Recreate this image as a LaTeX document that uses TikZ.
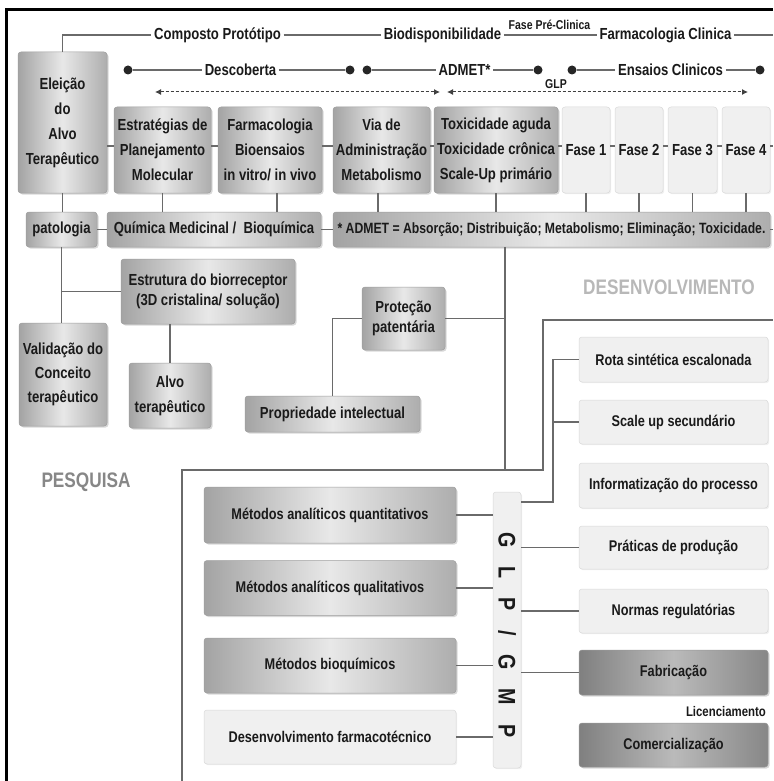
\documentclass[tikz,border=0pt]{standalone}
\usepackage{fontspec}
\setmainfont[FakeStretch=0.82]{Liberation Sans}
\usetikzlibrary{shadows,arrows.meta,calc}
\definecolor{txt}{HTML}{1a1a1a}
\definecolor{ln}{HTML}{6a6a6a}
\tikzset{
  conn/.style={draw=ln, line width=1.1pt},
  boxD/.style={rounded corners=3pt, draw=black!38, line width=0.5pt,
    left color=black!36, right color=black!32, middle color=black!9,
    drop shadow={opacity=0.3, shadow xshift=1.5pt, shadow yshift=-1.5pt},
    align=center, inner sep=0pt, text=txt, font=\bfseries\fontsize{16}{25}\selectfont},
  boxL/.style={rounded corners=3pt, draw=black!15, line width=0.5pt, fill=black!6,
    drop shadow={opacity=0.12, shadow xshift=1.2pt, shadow yshift=-1.2pt},
    align=center, inner sep=0pt, text=txt, font=\bfseries\fontsize{16}{25}\selectfont},
  boxF/.style={rounded corners=3pt, draw=black!40, line width=0.5pt,
    left color=black!50, right color=black!47, middle color=black!27,
    drop shadow={opacity=0.3, shadow xshift=1.5pt, shadow yshift=-1.5pt},
    align=center, inner sep=0pt, text=txt, font=\bfseries\fontsize{15.5}{18}\selectfont},
  lab/.style={inner sep=2.5pt, text=txt, font=\bfseries\fontsize{16}{18}\selectfont},
  dotn/.style={circle, fill=black!85, minimum size=9pt, inner sep=0pt},
  darr/.style={draw=black!75, line width=1pt, dash pattern=on 3pt off 2pt,
    {Latex[length=6pt,width=6pt]}-{Latex[length=6pt,width=6pt]}},
  small/.style={font=\bfseries\fontsize{15.5}{18}\selectfont},
}
\begin{document}
\begin{tikzpicture}[x=1pt,y=-1pt]
\useasboundingbox (0,0) rectangle (773,781);
\fill[white] (0,0) rectangle (773,781);
% outer black frame
\draw[line width=2.5pt, black] (6.5,781) -- (6.5,9.5) -- (773,9.5);

% top labels
\node[lab] (cp) at (217.5,35) {Composto Protótipo};
\node[lab] (bio) at (442.5,35) {Biodisponibilidade};
\node[lab, font=\bfseries\fontsize{12.8}{14}\selectfont] (fpc) at (549.5,25) {Fase Pré-Clinica};
\node[lab] (fc) at (665.5,35) {Farmacologia Clinica};
\coordinate (cpend) at (773,35);

% second row
\node[dotn] (d1) at (128,70) {};
\node[dotn] (d2) at (350,70) {};
\node[dotn] (d3) at (367,70) {};
\node[dotn] (d4) at (538,70) {};
\node[dotn] (d5) at (572,70) {};
\node[dotn] (d6) at (760,70) {};
\node[lab] (desc) at (240.5,70) {Descoberta};
\node[lab] (adm) at (464.5,70) {ADMET*};
\node[lab] (ens) at (670.5,70) {Ensaios Clinicos};
\draw[conn] (d1) -- (desc.west);
\draw[conn] (desc.east) -- (d2);
\draw[conn] (d3) -- (adm.west);
\draw[conn] (adm.east) -- (d4);
\draw[conn] (d5) -- (ens.west);
\draw[conn] (ens.east) -- (d6);

% dashed arrows
\coordinate (a1) at (155,92);
\coordinate (a2) at (440,92);
\coordinate (a3) at (447,92);
\coordinate (a4) at (748,92);
\draw[darr] (a1) -- (a2);
\draw[darr] (a3) -- (a4);
\node[lab, font=\bfseries\fontsize{12.8}{14}\selectfont] (glplab) at (556,84) {GLP};

% main boxes
\node[boxD, minimum width=89pt, minimum height=141pt] (elei) at (62.5,122.5) {Eleição\\do\\Alvo\\Terapêutico};
\node[boxD, minimum width=97pt, minimum height=86pt] (estr) at (162.5,150) {Estratégias de\\Planejamento\\Molecular};
\node[boxD, minimum width=104pt, minimum height=86pt] (farm) at (270,150) {Farmacologia\\Bioensaios\\in vitro/ in vivo};
\node[boxD, minimum width=97pt, minimum height=86pt] (via) at (381.5,150) {Via de\\Administração\\Metabolismo};
\node[boxD, minimum width=124pt, minimum height=86pt] (tox) at (496,150) {Toxicidade aguda\\Toxicidade crônica\\Scale-Up primário};
\node[boxL, minimum width=48pt, minimum height=86pt] (f1) at (586,150) {Fase 1};
\node[boxL, minimum width=48pt, minimum height=86pt] (f2) at (639,150) {Fase 2};
\node[boxL, minimum width=49pt, minimum height=86pt] (f3) at (692.5,150) {Fase 3};
\node[boxL, minimum width=48pt, minimum height=86pt] (f4) at (746,150) {Fase 4};

\draw[conn] (elei.north) |- (cp.west);
\draw[conn] (cp.east) -- (bio.west);
\draw[conn] (bio.east) -- (fc.west);
\draw[conn] (fc.east) -- (cpend);

\coordinate (r1) at (0,146);
\coordinate (r1end) at (773,146);
\draw[conn] (elei.east |- r1) -- (estr.west |- r1);
\draw[conn] (estr.east |- r1) -- (farm.west |- r1);
\draw[conn] (farm.east |- r1) -- (via.west |- r1);
\draw[conn] (via.east |- r1) -- (tox.west |- r1);
\draw[conn] (tox.east |- r1) -- (f1.west |- r1);
\draw[conn] (f1.east |- r1) -- (f2.west |- r1);
\draw[conn] (f2.east |- r1) -- (f3.west |- r1);
\draw[conn] (f3.east |- r1) -- (f4.west |- r1);
\draw[conn] (f4.east |- r1) -- (r1end);

% second box row
\node[boxD, minimum width=71pt, minimum height=35pt] (pat) at (61.5,229.5) {patologia};
\node[boxD, minimum width=214pt, minimum height=35pt] (quim) at (214,229.5) {Química Medicinal /\ \ Bioquímica};
\node[boxD, minimum width=437pt, minimum height=35pt, font=\bfseries\fontsize{14.9}{18}\selectfont] (admb) at (551.5,229.5) {* ADMET = Absorção; Distribuição; Metabolismo; Eliminação; Toxicidade.};
\coordinate (r2end) at (773,229.5);

\draw[conn] (elei.south) -- (elei.south |- pat.north);
\draw[conn] (estr.south) -- (estr.south |- quim.north);
\draw[conn] ([xshift=7pt]farm.south) -- ([xshift=7pt]farm.south |- quim.north);
\draw[conn] ([xshift=-3.5pt]via.south) -- ([xshift=-3.5pt]via.south |- admb.north);
\draw[conn] (tox.south) -- (tox.south |- admb.north);
\draw[conn] (f1.south) -- (f1.south |- admb.north);
\draw[conn] (f2.south) -- (f2.south |- admb.north);
\draw[conn] (f3.south) -- (f3.south |- admb.north);
\draw[conn] (f4.south) -- (f4.south |- admb.north);
\draw[conn] (pat.east) -- (quim.west);
\draw[conn] (quim.east) -- (admb.west);
\draw[conn] (admb.east) -- (r2end);

% research area
\node[boxD, minimum width=174pt, minimum height=65pt, font=\bfseries\fontsize{16}{19.5}\selectfont] (estru) at (208,291.5) {Estrutura do biorreceptor\\(3D cristalina/ solução)};
\node[boxD, minimum width=88pt, minimum height=103pt, font=\bfseries\fontsize{16}{24}\selectfont] (val) at (63,374.5) {Validação do\\Conceito\\terapêutico};
\node[boxD, minimum width=82pt, minimum height=65pt] (alvo) at (170,395.5) {Alvo\\terapêutico};
\node[boxD, minimum width=175pt, minimum height=36pt] (prop) at (332.5,414) {Propriedade intelectual};
\node[boxD, minimum width=83pt, minimum height=63pt, font=\bfseries\fontsize{16}{19.5}\selectfont] (prot) at (403.5,318.5) {Proteção\\patentária};

\draw[conn] (pat.south) -- (pat.south |- val.north);
\draw[conn] (estru.west -| pat.south) -- (estru.west);
\draw[conn] (alvo.north |- estru.south) -- (alvo.north);
\draw[conn] (prop.north) |- (prot.west);

% development frame
\coordinate (vtop) at (505,247);
\coordinate (vbot) at (505,470);
\coordinate (fr1) at (182,781);
\coordinate (fr2) at (182,470);
\coordinate (fr3) at (543,470);
\coordinate (fr4) at (543,320);
\coordinate (fr5) at (773,320);
\draw[conn] (vtop) -- (vbot);
\draw[conn] (prot.east) -- (prot.east -| vtop);
\draw[conn] (fr1) -- (fr2) -- (fr3) -- (fr4) -- (fr5);

\node[text=black!47, font=\bfseries\fontsize{21}{22}\selectfont] (pesq) at (86,482) {PESQUISA};
\node[text=black!28, font=\bfseries\fontsize{21}{22}\selectfont] (desenv) at (669,287) {DESENVOLVIMENTO};

% bottom left boxes
\node[boxD, small, minimum width=252pt, minimum height=56pt] (maq) at (330,515) {Métodos analíticos quantitativos};
\node[boxD, small, minimum width=252pt, minimum height=55pt] (mal) at (330,588) {Métodos analíticos qualitativos};
\node[boxD, small, minimum width=252pt, minimum height=55pt] (mb) at (330,665.5) {Métodos bioquímicos};
\node[boxL, small, minimum width=252pt, minimum height=54pt] (df) at (330,737) {Desenvolvimento farmacotécnico};

\node[boxL, minimum width=28pt, minimum height=276pt] (glp) at (507,630) {};
\node[rotate=-90, text=txt, font=\bfseries\fontsize{24}{26}\selectfont, inner sep=0pt] (glptxt) at (507,635)
  {G\kern19pt L\kern19pt P\kern19pt /\kern19pt G\kern19pt M\kern19pt P};

% right boxes
\node[boxL, small, minimum width=189pt, minimum height=45pt] (rota) at (673.5,359.5) {Rota sintética escalonada};
\node[boxL, small, minimum width=189pt, minimum height=44pt] (scal) at (673.5,422) {Scale up secundário};
\node[boxL, small, minimum width=189pt, minimum height=45pt] (info) at (673.5,485.5) {Informatização do processo};
\node[boxL, small, minimum width=189pt, minimum height=43pt] (prat) at (673.5,547.5) {Práticas de produção};
\node[boxL, small, minimum width=189pt, minimum height=44pt] (norm) at (673.5,611) {Normas regulatórias};
\node[boxF, minimum width=189pt, minimum height=45pt] (fab) at (673.5,672.5) {Fabricação};
\node[boxF, minimum width=189pt, minimum height=44pt] (com) at (673.5,745) {Comercialização};
\node[anchor=east, inner sep=0pt, text=txt, font=\bfseries\fontsize{13.9}{15}\selectfont] (lic) at (766,712) {Licenciamento};

% connectors bottom
\coordinate (busb) at (553,502);
\draw[conn] (rota.west) -| (busb) -- (busb -| glp.east);
\draw[conn] (scal.west) -- (scal.west -| busb);
\draw[conn] (maq.east) -- (maq.east -| glp.west);
\draw[conn] (mal.east) -- (mal.east -| glp.west);
\draw[conn] (mb.east) -- (mb.east -| glp.west);
\draw[conn] (df.east) -- (df.east -| glp.west);
\draw[conn] (prat.west) -- (prat.west -| glp.east);
\draw[conn] (norm.west) -- (norm.west -| glp.east);
\draw[conn] (fab.west) -- (fab.west -| glp.east);
\end{tikzpicture}
\end{document}
